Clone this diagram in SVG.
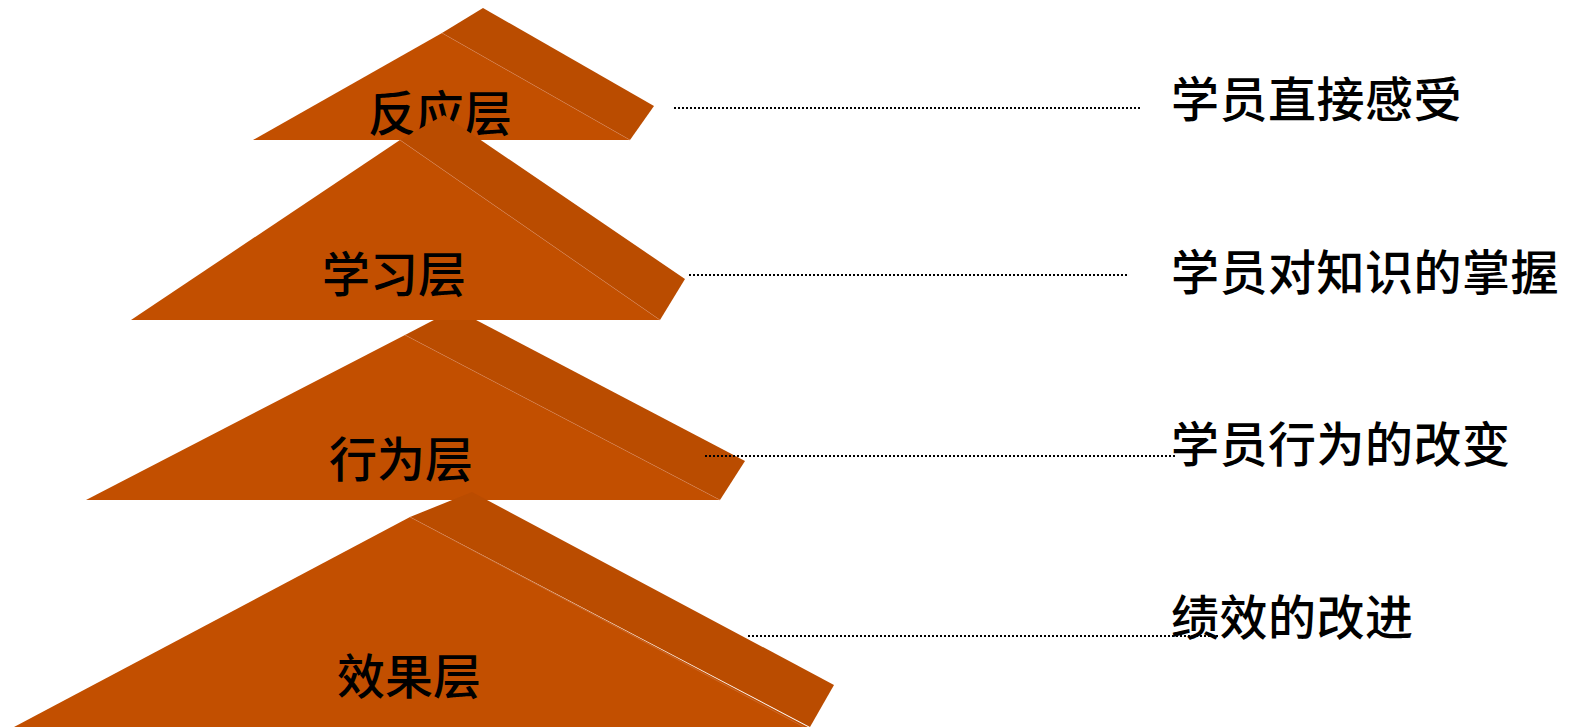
<svg xmlns="http://www.w3.org/2000/svg" width="1573" height="727" viewBox="0 0 1573 727">
<style>
.front{fill:#C24F00}
.side{fill:#BA4C00}
.ridge{stroke:#D8845A;stroke-width:1;stroke-opacity:0.45;fill:none}
.lbl{font-family:"Noto Sans CJK SC","Noto Sans CJK TC",sans-serif;font-size:48px;font-weight:500;fill:#000;text-anchor:middle}
.desc{font-family:"Noto Sans CJK SC","Noto Sans CJK TC",sans-serif;font-size:48px;font-weight:500;fill:#000;letter-spacing:0.5px}
.dot{stroke:#000;stroke-width:1.8;stroke-dasharray:2 2;fill:none}
</style>
<rect width="1573" height="727" fill="#fff"/>
<g id="layer1">
<polygon class="side" points="442,33 483,8 654,106 630,140"/>
<polygon class="front" points="442,33 253,140 630,140"/>
<line class="ridge" x1="442" y1="33" x2="630" y2="140"/>
<text class="lbl" x="440" y="131">反应层</text>
</g>
<g id="layer3">
<polygon class="side" points="405,335 455,309 745,461 720,500"/>
<polygon class="front" points="405,335 86,500 720,500"/>
<line class="ridge" x1="405" y1="335" x2="720" y2="500"/>
<text class="lbl" x="401" y="477">行为层</text>
</g>
<g id="layer2">
<polygon class="side" points="400,140 444,115 685,279 660,320"/>
<polygon class="front" points="400,140 131,320 660,320"/>
<line class="ridge" x1="400" y1="140" x2="660" y2="320"/>
<text class="lbl" x="394" y="292">学习层</text>
</g>
<g id="layer4">
<polygon class="side" points="410,517 472,492 834,685 810,727"/>
<polygon class="front" points="410,517 14,727 808,727"/>
<line class="ridge" x1="410" y1="517" x2="804" y2="727"/>
<text class="lbl" x="409" y="694">效果层</text>
</g>
<g id="connectors">
<line class="dot" x1="674" y1="108" x2="1142" y2="108"/>
<line class="dot" x1="689" y1="275" x2="1128" y2="275"/>
<line class="dot" x1="705" y1="456" x2="1175" y2="456"/>
<line class="dot" x1="748" y1="636" x2="1218" y2="636"/>
</g>
<g id="descriptions">
<text class="desc" x="1171" y="117">学员直接感受</text>
<text class="desc" x="1171" y="290">学员对知识的掌握</text>
<text class="desc" x="1171" y="462">学员行为的改变</text>
<text class="desc" x="1171" y="635">绩效的改进</text>
</g>
</svg>
